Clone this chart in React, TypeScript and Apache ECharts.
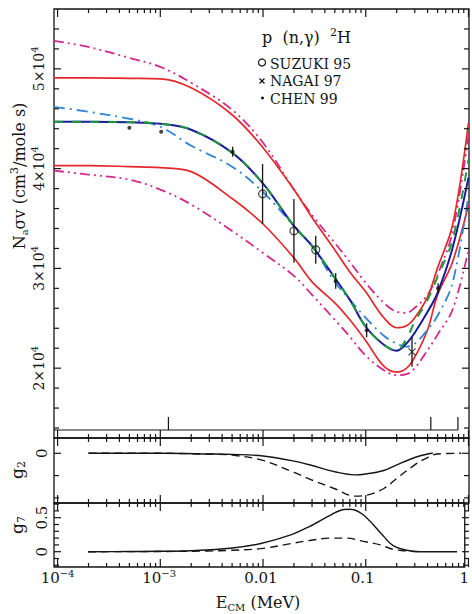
import React, { useEffect, useRef } from "react";
import * as echarts from "echarts";

const FONT = '"DejaVu Serif", "Liberation Serif", serif';

// ---- axes extents -------------------------------------------------------
const E_MIN = 9.23e-5;
const E_MAX = 1.012;
const xMajorExp = [-4, -3, -2, -1, 0];
const xTickLabels = ["{b|10}{s|−4}", "{b|10}{s|−3}", "{b|0.01}", "{b|0.1}", "{b|1}"];

const yTopMin = 13000;
const yTopMax = 56000;
const yTopTicks = [20000, 30000, 40000, 50000];
const yTopTickLabels = ["{b|2×10}{s|4}", "{b|3×10}{s|4}", "{b|4×10}{s|4}", "{b|5×10}{s|4}"];

const g2Min = -0.223;
const g2Max = 0.0686;
const g2MajorVals = [0];
const g2TickVals = [-0.2, -0.1];
const g2LabelVals = [0];
const g2Labels = ["{b|0}"];

const g7Min = -0.225;
const g7Max = 0.716;
const g7MajorVals = [0, 0.5];
const g7TickVals = [-0.2, -0.1, 0.1, 0.2, 0.3, 0.4, 0.6, 0.7];
const g7LabelVals = [0, 0.5];
const g7Labels = ["{b|0}", "{b|0.5}"];

// ---- rate curves (cm^3/mole s) -----------------------------------------
const curveE = [9.23e-5, 2e-4, 5e-4, 1e-3, 2e-3, 5e-3, 0.01, 0.02, 0.03, 0.05, 0.07, 0.1, 0.15, 0.2, 0.25, 0.3, 0.4, 0.5, 0.7, 1.0];
const redUpper = [49100, 49100, 49050, 49000, 48100, 45400, 42100, 37900, 35100, 31850, 29650, 27650, 25050, 24050, 24250, 25050, 27150, 30050, 34350, 44600];
const redLower = [40300, 40300, 40200, 40100, 39700, 37000, 34450, 31050, 28650, 26550, 24850, 22750, 20200, 19600, 20000, 21100, 23850, 27350, 30650, 36350];
const magentaUpper = [52800, 52200, 51100, 50200, 48600, 45900, 42600, 37900, 35350, 32550, 30650, 28550, 26550, 25650, 25550, 26050, 27350, 29350, 33650, 43400];
const magentaLower = [39800, 39400, 38900, 37900, 36400, 33750, 31550, 29250, 27350, 24850, 23150, 21250, 19800, 19300, 19400, 20000, 21800, 23350, 25850, 31850];
const lightBlue = [46200, 45700, 45000, 44200, 42300, 40200, 37650, 34250, 32250, 28650, 26850, 25050, 23250, 22450, 22150, 22450, 23850, 25250, 28550, 37350];
const blueFit = [44700, 44700, 44650, 44500, 43900, 41600, 38500, 34250, 32250, 29050, 26850, 24150, 22350, 21750, 22500, 23550, 25650, 27550, 32050, 39100];
const greenFit = [44700, 44700, 44650, 44500, 43900, 41600, 38500, 34250, 32250, 29050, 26850, 24150, 22350, 21750, 23000, 24650, 26850, 29150, 32850, 40900];

// ---- measurements ------------------------------------------------------
const suzukiE = [0.0099, 0.02, 0.0326];
const suzukiV = [37470, 33760, 31860];
const suzukiErr = [3000, 3200, 1400];
const nagaiE = [0.282];
const nagaiV = [21630];
const nagaiErr = [1500];
const chenE = [5.0e-4, 1.02e-3, 5.06e-3, 0.051, 0.102, 0.506];
const chenV = [44100, 43700, 41700, 28750, 23800, 28000];
const chenErr = [0, 0, 500, 800, 700, 500];

// energy-range markers at the bottom of the upper panel
const rangeLevel = 13800;
const rangeTop = 15100;
const rangeMarkE = [0.0012, 0.43, 0.79];

// ---- sensitivity functions --------------------------------------------
const g2SolidE = [2e-4, 1e-3, 3e-3, 5e-3, 0.01, 0.02, 0.03, 0.05, 0.078, 0.1, 0.15, 0.2, 0.3, 0.4, 0.45];
const g2SolidV = [0, 0, -0.003, -0.005, -0.012, -0.035, -0.055, -0.083, -0.097, -0.093, -0.077, -0.052, -0.019, -0.003, 0];
const g2DashE = [2e-4, 1e-3, 3e-3, 5e-3, 0.01, 0.02, 0.03, 0.05, 0.078, 0.1, 0.15, 0.2, 0.3, 0.4, 0.5, 0.85];
const g2DashV = [0, 0, -0.004, -0.008, -0.032, -0.086, -0.12, -0.159, -0.192, -0.189, -0.158, -0.113, -0.052, -0.019, -0.003, 0];
const g7SolidE = [2e-4, 5e-4, 1e-3, 2e-3, 5e-3, 0.01, 0.02, 0.03, 0.05, 0.065, 0.075, 0.1, 0.15, 0.2, 0.3, 0.4, 0.85];
const g7SolidV = [0, 0.002, 0.006, 0.015, 0.05, 0.12, 0.25, 0.37, 0.55, 0.62, 0.625, 0.55, 0.28, 0.09, 0.01, 0, 0];
const g7DashE = [2e-4, 1e-3, 3e-3, 5e-3, 0.01, 0.02, 0.03, 0.05, 0.07, 0.1, 0.15, 0.2, 0.3, 0.4];
const g7DashV = [0, 0.003, 0.01, 0.02, 0.045, 0.12, 0.165, 0.2, 0.2, 0.155, 0.1, 0.035, 0.005, 0];

// ------------------------------------------------------------------------
const lg = (e: number) => Math.log10(e);
const xMin = lg(E_MIN);
const xMax = lg(E_MAX);
const xMinorVals: number[] = [];
for (let k = -4; k < 0; k++) for (let m = 2; m <= 9; m++) xMinorVals.push(k + Math.log10(m));
const yTopMinor: number[] = [];
for (let v = 14000; v <= 54000; v += 2000) if (v % 10000 !== 0) yTopMinor.push(v);

const GRID_LEFT = 54;
const GRID_W = 415;
const PANELS = [
  { top: 9, height: 429, min: yTopMin, max: yTopMax, major: yTopTicks, minor: yTopMinor },
  { top: 438, height: 65, min: g2Min, max: g2Max, major: g2MajorVals, minor: g2TickVals },
  { top: 503, height: 64, min: g7Min, max: g7Max, major: g7MajorVals, minor: g7TickVals },
];

const INK = "#151515";
const richTick = (size: number) => ({
  b: { fontSize: size, lineHeight: 20, fontFamily: FONT, color: INK },
  s: { fontSize: Math.round(size * 0.68), lineHeight: 10, verticalAlign: "top", fontFamily: FONT, color: INK },
});

const pick = (vals: number[], labels: string[]) => (v: number) => {
  let best = 0;
  for (let i = 0; i < vals.length; i++) if (Math.abs(vals[i] - v) < Math.abs(vals[best] - v)) best = i;
  return labels[best];
};

function xAxisFor(grid: number, withLabels: boolean) {
  return {
    type: "value",
    gridIndex: grid,
    min: xMin,
    max: xMax,
    position: "bottom",
    splitLine: { show: false },
    axisLine: { show: false, onZero: false },
    axisTick: { show: false },
    axisLabel: withLabels
      ? { show: true, customValues: xMajorExp, formatter: pick(xMajorExp, xTickLabels), rich: richTick(15), margin: 1 }
      : { show: false },
  };
}

function yAxisFor(grid: number, min: number, max: number, labelVals: number[], labels: string[], fontSize: number, margin: number) {
  return {
    type: "value",
    gridIndex: grid,
    min,
    max,
    position: "left",
    splitLine: { show: false },
    axisLine: { show: false, onZero: false },
    axisTick: { show: false },
    axisLabel: { show: true, customValues: labelVals, rotate: 90, margin, formatter: pick(labelVals, labels), rich: richTick(fontSize) },
  };
}

const toXY = (E: number[], V: number[]) => E.map((e, i) => [lg(e), V[i]]);

function lineSeries(E: number[], V: number[], grid: number, style: any, z = 2) {
  return {
    type: "line",
    xAxisIndex: grid,
    yAxisIndex: grid,
    data: toXY(E, V),
    showSymbol: false,
    symbol: "none",
    smooth: 0.35,
    silent: true,
    z,
    lineStyle: style,
  };
}

// inward frame ticks, using the same linear mapping as each panel's value axes
function buildTicks() {
  const els: any[] = [];
  PANELS.forEach((p) => {
    const px = (x: number) => GRID_LEFT + ((x - xMin) / (xMax - xMin)) * GRID_W;
    const py = (y: number) => p.top + ((p.max - y) / (p.max - p.min)) * p.height;
    const line = (x1: number, y1: number, x2: number, y2: number) =>
      els.push({ type: "line", silent: true, z: 50, shape: { x1, y1, x2, y2 }, style: { stroke: INK, lineWidth: 1.2 } });
    const bottom = p.top + p.height;
    const right = GRID_LEFT + GRID_W;
    const xt = (v: number, len: number) => {
      const x = px(v);
      line(x, bottom, x, bottom - len);
      line(x, p.top, x, p.top + len);
    };
    const yt = (v: number, len: number) => {
      const y = py(v);
      line(GRID_LEFT, y, GRID_LEFT + len, y);
      line(right, y, right - len, y);
    };
    xMajorExp.forEach((v) => xt(v, 8));
    xMinorVals.forEach((v) => xt(v, 4));
    p.major.forEach((v) => yt(v, 7));
    p.minor.forEach((v) => yt(v, 5));
  });
  return els;
}

export default function App() {
  const ref = useRef<HTMLDivElement>(null);
  useEffect(() => {
    if (!ref.current) return;
    const chart = echarts.init(ref.current, undefined, { renderer: "svg" });

    const errData = [
      ...suzukiE.map((e, i) => [lg(e), suzukiV[i] - suzukiErr[i], suzukiV[i] + suzukiErr[i]]),
      ...nagaiE.map((e, i) => [lg(e), nagaiV[i] - nagaiErr[i], nagaiV[i] + nagaiErr[i]]),
      ...chenE.map((e, i) => [lg(e), chenV[i] - chenErr[i], chenV[i] + chenErr[i]]),
    ].filter((d) => d[2] - d[1] > 0);

    const rangeSegs: number[][][] = [
      [[xMin, rangeLevel], [lg(rangeMarkE[2]), rangeLevel]],
      ...rangeMarkE.map((e) => [[lg(e), rangeLevel], [lg(e), rangeTop]]),
    ];

    const gridBase = { show: true, borderColor: INK, borderWidth: 1.3, backgroundColor: "rgba(0,0,0,0)", left: GRID_LEFT, width: GRID_W };

    const graphic: any[] = [
      ...buildTicks(),
      {
        type: "text", x: 19, y: 176, rotation: Math.PI / 2,
        style: {
          text: "{b|N}{s|a}{b|σv (cm}{p|3}{b|/mole s)}",
          align: "center", verticalAlign: "middle",
          rich: {
            b: { fontSize: 16, lineHeight: 20, fontFamily: FONT, fill: INK },
            s: { fontSize: 10, lineHeight: 8, verticalAlign: "bottom", fontFamily: FONT, fill: INK },
            p: { fontSize: 11, lineHeight: 8, verticalAlign: "top", fontFamily: FONT, fill: INK },
          },
        },
      },
      {
        type: "text", x: 17, y: 470, rotation: Math.PI / 2,
        style: {
          text: "{b|g}{s|2}", align: "center", verticalAlign: "middle",
          rich: {
            b: { fontSize: 17, lineHeight: 20, fontFamily: FONT, fill: INK },
            s: { fontSize: 11, lineHeight: 8, verticalAlign: "bottom", fontFamily: FONT, fill: INK },
          },
        },
      },
      {
        type: "text", x: 17, y: 525, rotation: Math.PI / 2,
        style: {
          text: "{b|g}{s|7}", align: "center", verticalAlign: "middle",
          rich: {
            b: { fontSize: 17, lineHeight: 20, fontFamily: FONT, fill: INK },
            s: { fontSize: 11, lineHeight: 8, verticalAlign: "bottom", fontFamily: FONT, fill: INK },
          },
        },
      },
      {
        type: "text", x: 258, y: 602,
        style: {
          text: "{b|E}{s|CM}{b| (MeV)}", align: "center", verticalAlign: "middle",
          rich: {
            b: { fontSize: 16, lineHeight: 20, fontFamily: FONT, fill: INK },
            s: { fontSize: 10, lineHeight: 8, verticalAlign: "bottom", fontFamily: FONT, fill: INK },
          },
        },
      },
      {
        type: "text", x: 262, y: 37,
        style: {
          text: "{b|p  (n,γ)  }{p|2}{b|H}", align: "left", verticalAlign: "middle",
          rich: {
            b: { fontSize: 16, lineHeight: 20, fontFamily: FONT, fill: INK },
            p: { fontSize: 11, lineHeight: 10, verticalAlign: "top", fontFamily: FONT, fill: INK },
          },
        },
      },
      { type: "text", x: 270, y: 63.5, style: { text: "SUZUKI 95", fontSize: 14, fontFamily: FONT, fill: INK, align: "left", verticalAlign: "middle" } },
      { type: "text", x: 270, y: 81, style: { text: "NAGAI 97", fontSize: 14, fontFamily: FONT, fill: INK, align: "left", verticalAlign: "middle" } },
      { type: "text", x: 270, y: 98.5, style: { text: "CHEN 99", fontSize: 14, fontFamily: FONT, fill: INK, align: "left", verticalAlign: "middle" } },
      { type: "circle", shape: { cx: 262, cy: 62.5, r: 3.5 }, style: { fill: "none", stroke: INK, lineWidth: 1.2 } },
      { type: "line", shape: { x1: 259.5, y1: 78.5, x2: 264.5, y2: 83.5 }, style: { stroke: INK, lineWidth: 1.2 } },
      { type: "line", shape: { x1: 264.5, y1: 78.5, x2: 259.5, y2: 83.5 }, style: { stroke: INK, lineWidth: 1.2 } },
      { type: "circle", shape: { cx: 262.5, cy: 98, r: 1.5 }, style: { fill: INK } },
    ];

    const option: any = {
      animation: false,
      backgroundColor: "#ffffff",
      textStyle: { fontFamily: FONT },
      grid: PANELS.map((p) => ({ ...gridBase, top: p.top, height: p.height })),
      xAxis: [xAxisFor(0, false), xAxisFor(1, false), xAxisFor(2, true)],
      yAxis: [
        yAxisFor(0, yTopMin, yTopMax, yTopTicks, yTopTickLabels, 14, 5),
        yAxisFor(1, g2Min, g2Max, g2LabelVals, g2Labels, 15, 2),
        yAxisFor(2, g7Min, g7Max, g7LabelVals, g7Labels, 15, 2),
      ],
      series: [
        lineSeries(curveE, magentaUpper, 0, { color: "#d42a8c", width: 1.8, type: [10, 4, 2, 4, 2, 4] }),
        lineSeries(curveE, magentaLower, 0, { color: "#d42a8c", width: 1.8, type: [10, 4, 2, 4, 2, 4] }),
        lineSeries(curveE, redUpper, 0, { color: "#e5282c", width: 1.7 }),
        lineSeries(curveE, redLower, 0, { color: "#e5282c", width: 1.7 }),
        lineSeries(curveE, lightBlue, 0, { color: "#2f86d6", width: 1.8, type: [11, 5, 2, 5] }),
        lineSeries(curveE, blueFit, 0, { color: "#1b1b9c", width: 2 }, 3),
        lineSeries(curveE, greenFit, 0, { color: "#1f9a3c", width: 2, type: [9, 9] }, 3),
        ...rangeSegs.map((seg) => ({
          type: "line", xAxisIndex: 0, yAxisIndex: 0, data: seg, showSymbol: false, symbol: "none",
          silent: true, lineStyle: { color: INK, width: 1.2 }, z: 2,
        })),
        {
          type: "custom",
          xAxisIndex: 0,
          yAxisIndex: 0,
          data: errData,
          encode: { x: 0, y: [1, 2] },
          silent: true,
          z: 5,
          renderItem: (_p: any, api: any) => {
            const a = api.coord([api.value(0), api.value(1)]);
            const b = api.coord([api.value(0), api.value(2)]);
            return { type: "line", shape: { x1: a[0], y1: a[1], x2: b[0], y2: b[1] }, style: { stroke: INK, lineWidth: 1.3 } };
          },
        },
        {
          type: "scatter", xAxisIndex: 0, yAxisIndex: 0, z: 6, silent: true,
          data: toXY(suzukiE, suzukiV), symbol: "circle", symbolSize: 8,
          itemStyle: { color: "rgba(0,0,0,0)", borderColor: INK, borderWidth: 1.2 },
        },
        {
          type: "scatter", xAxisIndex: 0, yAxisIndex: 0, z: 6, silent: true,
          data: toXY(nagaiE, nagaiV), symbol: "path://M0,0L10,10M10,0L0,10", symbolSize: 7,
          itemStyle: { color: "rgba(0,0,0,0)", borderColor: INK, borderWidth: 1.3 },
        },
        {
          type: "scatter", xAxisIndex: 0, yAxisIndex: 0, z: 6, silent: true,
          data: toXY(chenE, chenV), symbol: "circle", symbolSize: 4,
          itemStyle: { color: INK },
        },
        lineSeries(g2SolidE, g2SolidV, 1, { color: INK, width: 1.4 }),
        lineSeries(g2DashE, g2DashV, 1, { color: INK, width: 1.4, type: [8, 5] }),
        lineSeries(g7SolidE, g7SolidV, 2, { color: INK, width: 1.4 }),
        lineSeries(g7DashE, g7DashV, 2, { color: INK, width: 1.4, type: [8, 5] }),
      ],
      graphic,
    };
    chart.setOption(option);
    return () => chart.dispose();
  }, []);

  return <div ref={ref} style={{ position: "absolute", left: 0, top: 0, width: 472, height: 614, background: "#fff" }} />;
}
